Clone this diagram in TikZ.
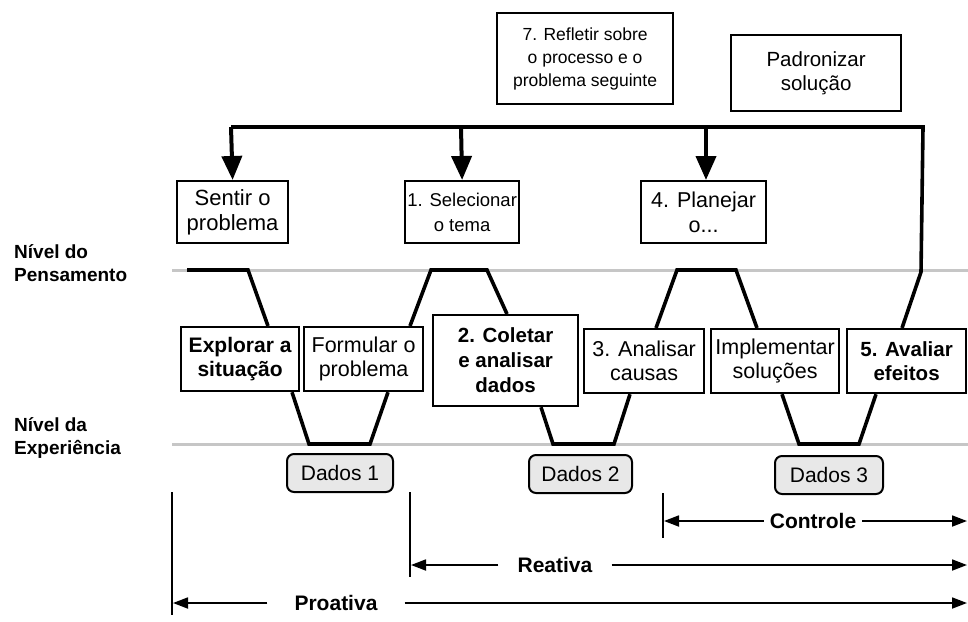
\documentclass[tikz,border=0pt]{standalone}
\usepackage{fontspec}
\setmainfont{Liberation Sans}
\usetikzlibrary{arrows.meta}
\begin{document}
\begin{tikzpicture}[x=1pt,y=-1pt,
  box/.style={draw, line width=2.2pt, align=center, inner sep=0pt, anchor=north west,
    font=\fontsize{21.5}{24}\selectfont},
  bbox/.style={box, font=\fontsize{20.5}{24}\selectfont\bfseries},
  dados/.style={draw, line width=2pt, rounded corners=7pt, fill=black!9, inner sep=0pt,
    anchor=north west, font=\fontsize{21}{22}\selectfont},
  level/.style={gray!45, line width=3pt},
  flow/.style={line width=3.6pt},
  bus/.style={line width=4pt, -{Triangle[length=24pt,width=20pt]}},
  span/.style={line width=1.8pt, -{Triangle[length=15pt,width=11pt]}},
  bar/.style={line width=2pt},
  lab/.style={font=\fontsize{21}{22}\selectfont\bfseries, inner ysep=0pt},
  side/.style={font=\fontsize{19}{23}\selectfont\bfseries, align=left, anchor=north west, inner sep=0pt}
]
\useasboundingbox (0,0) rectangle (968,621);

% level lines
\draw[level] (172,270) -- (968,270);
\draw[level] (172,444) -- (968,444);
\node[side] (np) at (14,244) {Nível do\\Pensamento};
\node[side] (ne) at (14,417) {Nível da\\Experiência};

% top boxes
\node[box, minimum width=176pt, minimum height=91pt, font=\fontsize{17.5}{23}\selectfont] (b7) at (496,12)
  {7. Refletir sobre\\o processo e o\\problema seguinte};
\node[box, minimum width=170pt, minimum height=76pt, font=\fontsize{20.5}{24}\selectfont] (pad) at (730,34) {Padronizar\\solução};

\node[box, minimum width=111pt, minimum height=62pt, font=\fontsize{22}{25}\selectfont] (sen) at (176,180) {Sentir o\\problema};
\node[box, minimum width=114pt, minimum height=62pt, font=\fontsize{18.5}{25}\selectfont] (sel) at (404,180) {1. Selecionar\\o tema};
\node[box, minimum width=125pt, minimum height=62pt, font=\fontsize{21.5}{25}\selectfont] (pla) at (640,180) {4. Planejar\\o...};

% middle boxes
\node[bbox, minimum width=118pt, minimum height=64pt, font=\fontsize{21}{24}\selectfont\bfseries] (exp) at (180,326) {Explorar a\\situação};
\node[box, minimum width=119pt, minimum height=64pt] (for) at (303,326) {Formular o\\problema};
\node[bbox, minimum width=145pt, minimum height=91pt, font=\fontsize{20.5}{25}\selectfont\bfseries] (col) at (432,314) {2. Coletar\\e analisar\\dados};
\node[box, minimum width=120pt, minimum height=64pt] (ana) at (583,328) {3. Analisar\\causas};
\node[box, minimum width=128pt, minimum height=64pt] (imp) at (710,328) {Implementar\\soluções};
\node[bbox, minimum width=119pt, minimum height=64pt] (ava) at (846,328) {5. Avaliar\\efeitos};

% data boxes
\node[dados, minimum width=106pt, minimum height=38pt] (d1) at (286,453) {Dados 1};
\node[dados, minimum width=103pt, minimum height=38pt] (d2) at (528,454) {Dados 2};
\node[dados, minimum width=108pt, minimum height=38pt] (d3) at (774,455) {Dados 3};

% zigzag flow
\draw[flow] (187,270) -- (248,270) -- (268,0 |- exp.north);
\draw[flow] (292,0 |- exp.south) -- (309,444) -- (370,444) -- (388,0 |- for.south);
\draw[flow] (410,0 |- for.north) -- (431,270) -- (487,270) -- (507,0 |- col.north);
\draw[flow] (541,0 |- col.south) -- (553,444) -- (614,444) -- (630,0 |- ana.south);
\draw[flow] (656,0 |- ana.north) -- (677,270) -- (736,270) -- (757,0 |- imp.north);
\draw[flow] (782,0 |- imp.south) -- (799,444) -- (859,444) -- (876,0 |- ava.south);

% feedback bus
\coordinate (busR) at (923,127);
\coordinate (busL) at (231,127);
\draw[line width=3.6pt] (902,0 |- ava.north) -- (921,272) -- (busR) -- (busL);
\draw[bus] (busL) -- (sen.north);
\draw[bus] (461,127) -- (sel.north);
\draw[bus] (706,127) -- (706,0 |- pla.north);

% spans
\draw[bar] (172,492) -- (172,615);
\draw[bar] (410,492) -- (410,577);
\draw[bar] (663,493) -- (663,538);

\coordinate (conL) at (664,521);
\coordinate (conR) at (967,521);
\coordinate (reaL) at (411,565);
\coordinate (reaR) at (967,565);
\coordinate (proL) at (173,603);
\coordinate (proR) at (967,603);

\node[lab, inner xsep=6pt] (con) at (813,521) {Controle};
\node[lab, inner xsep=19pt] (rea) at (555,565) {Reativa};
\node[lab, inner xsep=27pt] (pro) at (336,603) {Proativa};

\draw[span] (con.west) -- (conL);
\draw[span] (con.east) -- (conR);
\draw[span] (rea.west) -- (reaL);
\draw[span] (rea.east) -- (reaR);
\draw[span] (pro.west) -- (proL);
\draw[span] (pro.east) -- (proR);
\end{tikzpicture}
\end{document}
